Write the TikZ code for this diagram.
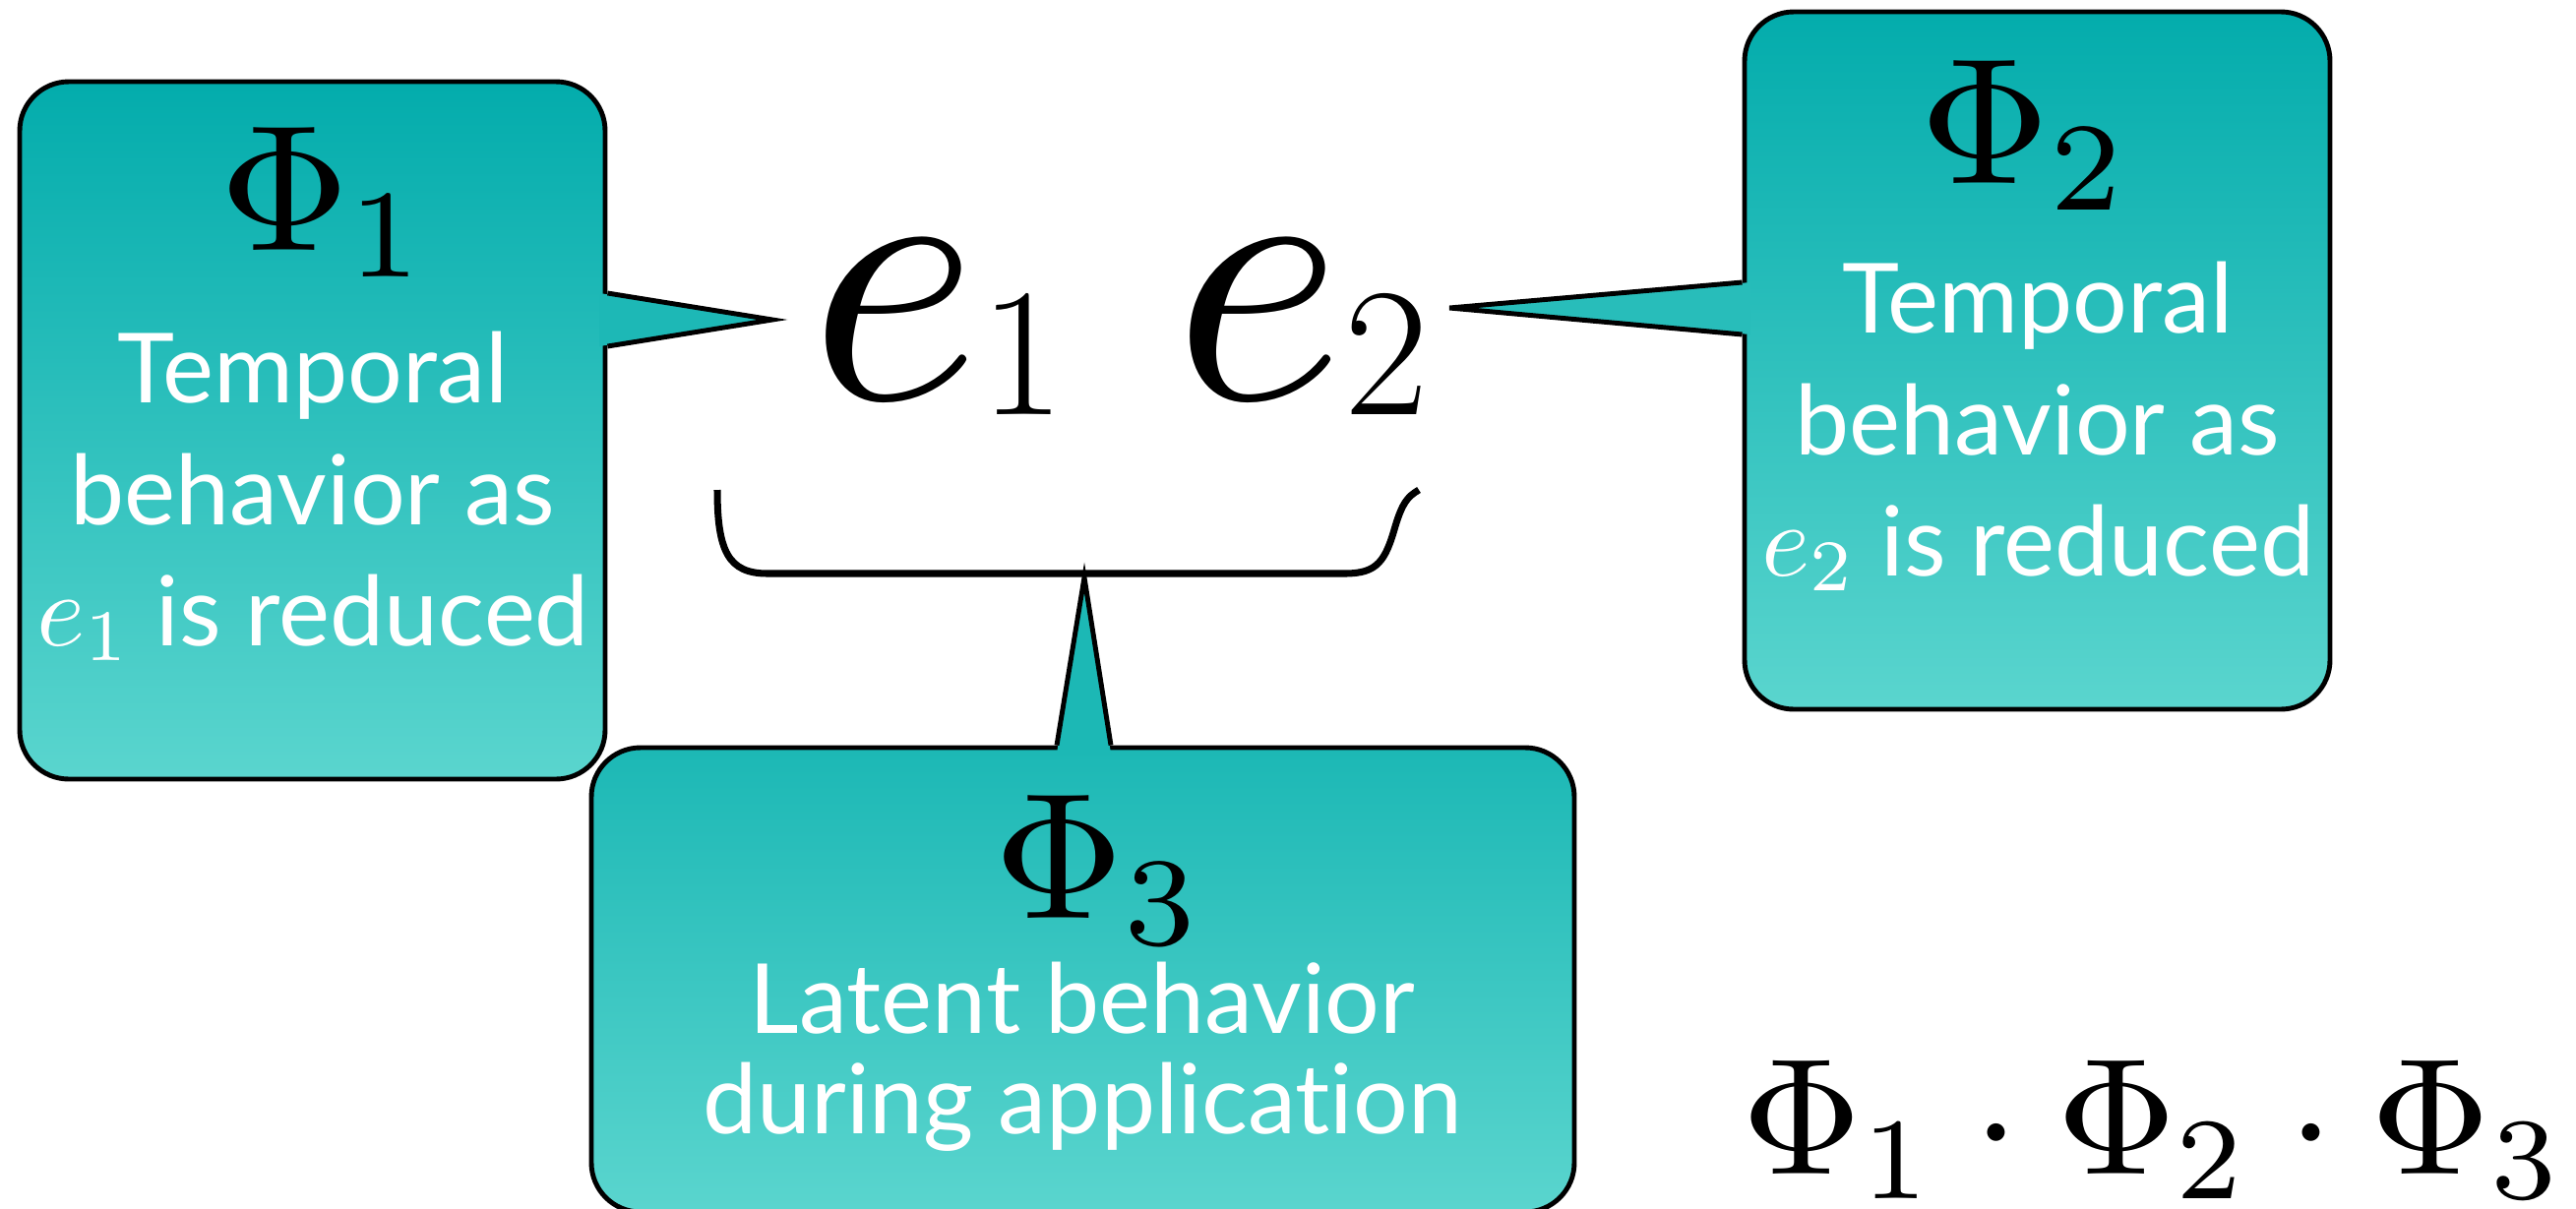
\documentclass[tikz,border=0pt]{standalone}
\usepackage{graphicx}
\usepackage{fontspec}
\newfontfamily\calloutfont[Ligatures=NoCommon]{Lato}
\usetikzlibrary{positioning}
\definecolor{tealtop}{RGB}{3,172,172}
\definecolor{tealbot}{RGB}{90,213,206}
\definecolor{tealtopC}{RGB}{28,184,181}
\definecolor{tailA}{RGB}{29,184,182}
\definecolor{tailB}{RGB}{40,189,186}
\tikzset{
    callout/.style={draw=black, line width=1.4pt, rounded corners=5mm, top color=tealtop, bottom color=tealbot, inner sep=0pt},
    tail/.style={draw=black, line width=1.4pt, line join=miter},
    phi label/.style={inner sep=0pt, anchor=base},
    callout text/.style={font=\calloutfont\fontsize{28}{35}\selectfont, text=white, align=center, inner sep=0pt, anchor=base},
    big e/.style={inner sep=0pt, anchor=base west}
}
% math set at 10pt, then scaled up
\newcommand{\mathat}[2]{\scalebox{#1}{\fontsize{10}{12}\selectfont$#2$}}
\newcommand{\bigesub}[1]{\mathat{10.6}{e}\kern0pt\raisebox{-4.8pt}{\fontsize{53}{53}\selectfont #1}}

\begin{document}
\begin{tikzpicture}[x=0.1mm, y=-0.1mm]
    \fill[white] (0,0) rectangle (2618,1228);
    \useasboundingbox (0,0) rectangle (2618,1228);

    \node[callout, minimum width=59.5mm, minimum height=70.9mm] (box1) at (317.5,437.5) {};
    \node[callout, minimum width=59.5mm, minimum height=70.9mm] (box2) at (2070.5,366.5) {};
    \node[callout, minimum width=99.9mm, minimum height=47.2mm, top color=tealtopC] (box3) at (1100.5,996) {};

    \node[big e] (e1) at (822,405) {\bigesub{1}};
    \node[big e] (e2) at (1192,405) {\bigesub{2}};

    \coordinate (tip1) at (785,325);
    \coordinate (tip2) at (1473,313);
    \coordinate (tip3) at (1102,587);

    % tails
    \fill[tailA] (609,298) -- (tip1) -- (609,352) -- cycle;
    \draw[tail] (box1.east |- 0,298) -- (tip1) -- (box1.east |- 0,352);
    \fill[tailB] (1779,287) -- (tip2) -- (1779,340) -- cycle;
    \draw[tail] (box2.west |- 0,287) -- (tip2) -- (box2.west |- 0,340);
    \fill[tealtopC] (1074,766) -- (tip3) -- (1129,766) -- cycle;
    \draw[tail] (box3.north -| 1074,0) -- (tip3) -- (box3.north -| 1129,0);

    % brace under e1 e2
    \draw[line width=2pt] (729,498) .. controls (729,560) and (740,583) .. (780,583)
        -- (1367,583) .. controls (1400,583) and (1408,570) .. (1418,535)
        .. controls (1425,512) and (1430,505) .. (1442,498);

    \node[phi label] (phi1) at (330,254) {\mathat{5.2}{\Phi_1}};
    \node[callout text] (txt1) at (318,656) {Temporal\\behavior as\\\mathat{3}{e_1} is reduced};
    \node[phi label] (phi2) at (2058,186) {\mathat{5.2}{\Phi_2}};
    \node[callout text] (txt2) at (2071,585) {Temporal\\behavior as\\\mathat{3}{e_2} is reduced};
    \node[phi label] (phi3) at (1117,933) {\mathat{5.2}{\Phi_3}};
    \node[callout text, font=\calloutfont\fontsize{28}{29}\selectfont] (txt3) at (1100,1152) {Latent behavior\\during application};

    \node[inner sep=0pt, anchor=base west] (prod) at (1770,1193) {\mathat{4.8}{\Phi_1\cdot\Phi_2\cdot\Phi_3}};
\end{tikzpicture}
\end{document}
